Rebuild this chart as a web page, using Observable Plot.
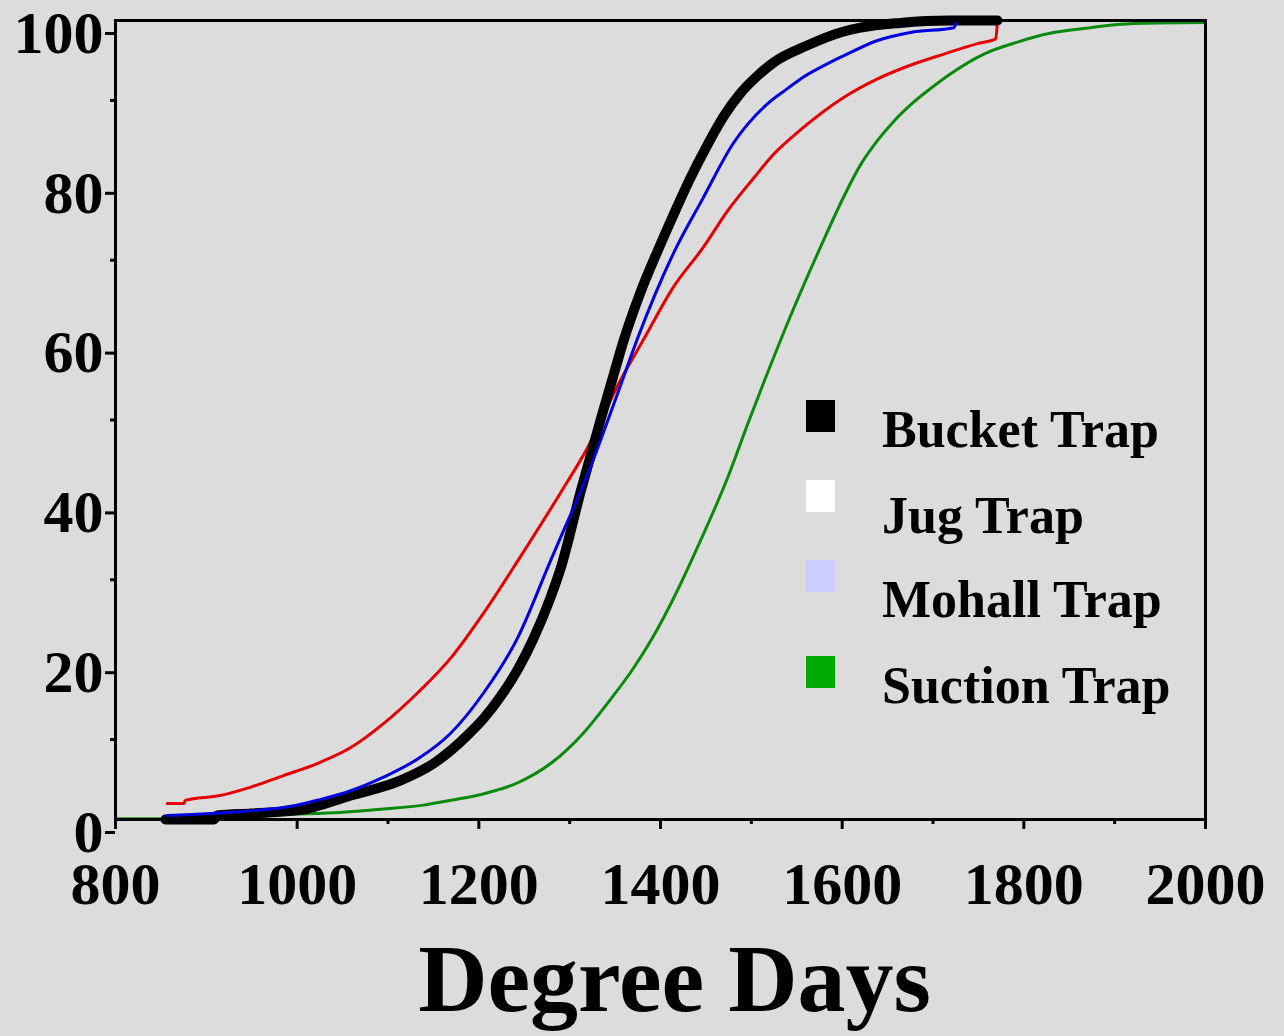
<!DOCTYPE html>
<html><head><meta charset="utf-8">
<script src="https://cdn.jsdelivr.net/npm/d3@7"></script>
<script src="https://cdn.jsdelivr.net/npm/@observablehq/plot@0.6"></script>
<style>
html,body{margin:0;padding:0;background:#dcdcdc;}
#chart{width:1284px;height:1036px;}
</style></head><body><div id="chart"></div>
<script>
// ---- data (Degree Days vs cumulative %) ----
const bucketDD  = [855, 908, 912, 949, 1004, 1059, 1114, 1150, 1188, 1205, 1224, 1243, 1260, 1279, 1290, 1312, 1334, 1348, 1359, 1378, 1397, 1414, 1433, 1452, 1469, 1488, 1507, 1524, 1562, 1598, 1620, 1664, 1719, 1771];
const bucketPct = [0, 0, 0.5, 0.75, 1.2, 3.0, 4.9, 7.0, 10.6, 12.6, 15.4, 18.8, 22.6, 27.8, 31.4, 41.0, 50.0, 55.5, 59.8, 66.0, 71.2, 75.6, 80.3, 84.5, 87.9, 90.9, 93.1, 94.7, 96.9, 98.5, 99.1, 99.7, 100, 100];

const jugDD  = [857, 940, 998, 1022, 1059, 1095, 1133, 1169, 1205, 1243, 1279, 1290, 1317, 1354, 1375, 1414, 1447, 1480, 1518, 1540, 1557, 1584, 1602, 1639, 1675, 1723, 1727, 1774];
const jugPct = [0.5, 1.0, 1.75, 2.4, 3.6, 5.3, 7.6, 10.8, 15.8, 22.8, 32.4, 35.3, 42.4, 53.7, 60.3, 70.8, 77.8, 84.6, 89.6, 91.5, 92.9, 94.6, 95.6, 97.5, 98.5, 99.1, 100, 100];

const mohallDD  = [857, 875, 877, 915, 949, 985, 1022, 1059, 1095, 1133, 1169, 1205, 1243, 1290, 1320, 1356, 1381, 1414, 1447, 1474, 1502, 1524, 1554, 1602, 1639, 1675, 1712, 1749, 1769, 1771];
const mohallPct = [2.0, 2.0, 2.4, 3.0, 4.05, 5.5, 7.0, 9.0, 12.0, 15.9, 20.2, 25.8, 32.4, 40.9, 46.6, 55, 60, 66.6, 71.6, 76.2, 80.2, 83.2, 86.3, 90.4, 92.7, 94.4, 95.8, 97.1, 97.7, 100];

const suctionDD  = [800, 956, 957, 1050, 1095, 1139, 1169, 1205, 1243, 1279, 1315, 1342, 1370, 1392, 1414, 1444, 1474, 1496, 1513, 1546, 1576, 1602, 1620, 1639, 1657, 1679, 1701, 1719, 1756, 1793, 1829, 1866, 1903, 1947, 2000];
const suctionPct = [0.1, 0.1, 0.4, 0.9, 1.3, 1.8, 2.4, 3.2, 4.6, 7.0, 10.8, 14.6, 18.9, 22.9, 27.6, 34.9, 42.8, 49.5, 54.5, 63.8, 71.6, 78.0, 81.9, 85.0, 87.4, 89.8, 91.8, 93.3, 95.8, 97.3, 98.4, 99.0, 99.5, 99.7, 99.75];

const xMajorTicks = [800, 1000, 1200, 1400, 1600, 1800, 2000];
const xMinorTicks = [900, 1100, 1300, 1500, 1700, 1900];
const yMajorTicks = [0, 20, 40, 60, 80, 100];
const yMinorTicks = [10, 30, 50, 70, 90];

const legendNames  = ["Bucket Trap", "Jug Trap", "Mohall Trap", "Suction Trap"];
const legendColors = ["#000000", "#ffffff", "#ccccff", "#00aa00"];
const xTitle = "Degree Days";

// ---- build tables ----
const toRows = (dd, pct) => dd.map((d, i) => ({dd: d, pct: pct[i]}));
const bucket = toRows(bucketDD, bucketPct);
const jug = toRows(jugDD, jugPct);
const mohall = toRows(mohallDD, mohallPct);
const suction = toRows(suctionDD, suctionPct);

const FONT = "'Liberation Serif', 'Times New Roman', Times, serif";
const CURVE = "monotone-x";

const plot = Plot.plot({
  width: 1284,
  height: 1036,
  marginLeft: 115,
  marginRight: 79,
  marginTop: 20,
  marginBottom: 217,
  style: {background: "#dcdcdc", fontFamily: FONT, fontWeight: "bold", color: "black", overflow: "visible"},
  x: {domain: [800, 2000]},
  y: {domain: [0, 100]},
  marks: [
    Plot.line(suction, {x: "dd", y: "pct", stroke: "#0a8a0a", strokeWidth: 3, curve: CURVE}),
    Plot.line(mohall, {x: "dd", y: "pct", stroke: "#e80000", strokeWidth: 3, curve: CURVE}),
    Plot.line(bucket, {x: "dd", y: "pct", stroke: "#000000", strokeWidth: 10, strokeLinecap: "round", strokeLinejoin: "round", curve: CURVE}),
    Plot.line(jug, {x: "dd", y: "pct", stroke: "#0000e0", strokeWidth: 3, curve: CURVE}),
    Plot.frame({stroke: "black", strokeWidth: 3}),
    Plot.axisY({ticks: yMajorTicks, tickSize: 10, tickPadding: 2, dy: 13, fontSize: 60, fontWeight: "bold", fontFamily: FONT, strokeWidth: 3, label: null, tickFormat: d => String(d)}),
    Plot.axisY({ticks: yMinorTicks, tickSize: 5, strokeWidth: 3, text: null, label: null}),
    Plot.axisX({ticks: xMajorTicks, tickSize: 10, tickPadding: 32, fontSize: 60, fontWeight: "bold", fontFamily: FONT, strokeWidth: 3, label: null, tickFormat: d => String(d)}),
    Plot.axisX({ticks: xMinorTicks, tickSize: 5, strokeWidth: 3, text: null, label: null}),
    Plot.text([xTitle], {text: d => d, frameAnchor: "bottom", dx: 14, dy: 161, lineAnchor: "middle", fontSize: 96, fontWeight: "bold", fontFamily: FONT, fill: "black"})
  ]
});

document.getElementById("chart").appendChild(plot);

// ---- legend (drawn into the same SVG) ----
const svg = d3.select(plot);
const rectTops = [400, 480, 560, 656];
const textBase = [447, 533, 617, 703];
const lg = svg.append("g").attr("class", "legend").attr("text-anchor", "start");
legendNames.forEach((name, i) => {
  lg.append("rect").attr("x", 806).attr("y", rectTops[i]).attr("width", 29).attr("height", 32).attr("fill", legendColors[i]);
  lg.append("text").attr("x", 882).attr("y", textBase[i])
    .attr("text-anchor", "start")
    .attr("font-family", FONT).attr("font-weight", "bold").attr("font-size", 52)
    .attr("fill", "black").text(name);
});
</script>
</body></html>
